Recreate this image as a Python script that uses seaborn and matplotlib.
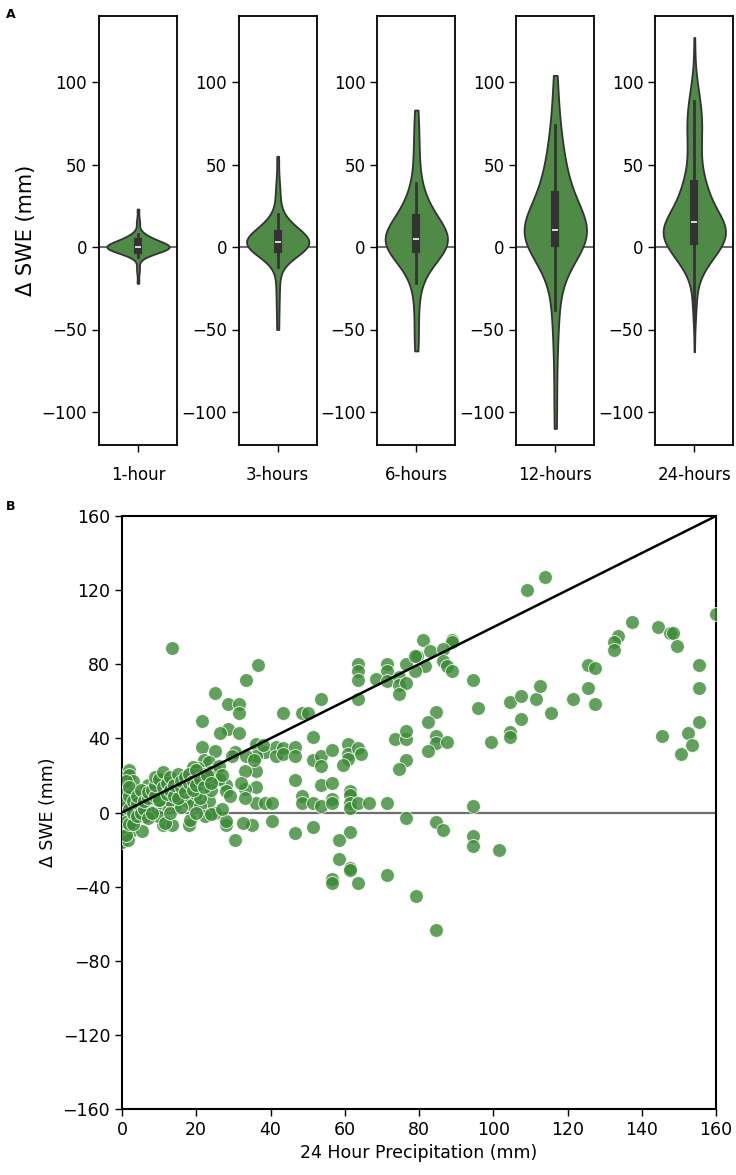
import numpy as np
import pandas as pd
import matplotlib
matplotlib.use("Agg")
import matplotlib.pyplot as plt
import seaborn as sns

# accumulation windows shown in panel A
durations = ["1-hour", "3-hours", "6-hours", "12-hours", "24-hours"]

# SWE change (mm) for the shorter windows
swe_1h = [-22, -15, -12, -6, -5, -5, -4, -4, -4, -3, -3, -3, -3, -2, -2, -2,
          -2, -1, -1, -1, -1, -1, 0, 0, 0, 0, 0, 0, 0, 0, 0, 0,
          0, 0, 0, 0, 1, 1, 1, 1, 1, 2, 2, 2, 2, 3, 3, 3,
          3, 4, 4, 4, 5, 5, 5, 6, 6, 7, 8, 8, 14, 16, 23]

swe_3h = [-50, -38, -28, -21, -12, -8, -6, -5, -4, -3, -2, -2, -1, -1, -1,
          0, 0, 0, 0, 1, 1, 1, 1, 2, 2, 2, 2, 3, 3, 3,
          3, 4, 4, 4, 5, 5, 5, 6, 6, 7, 7, 8, 8, 9, 10,
          10, 11, 12, 13, 14, 16, 18, 20, 29, 33, 40, 55]

swe_6h = [-63, -55, -42, -33, -22, -18, -15, -12, -10, -8, -6, -5, -4, -3, -2, -1, -1,
          0, 0, 1, 1, 2, 2, 3, 3, 3, 4, 4, 4, 5, 5, 5, 5, 6, 6,
          6, 7, 8, 9, 10, 11, 12, 13, 14, 16, 17, 18, 19, 20, 21, 22,
          24, 27, 30, 33, 36, 39, 50, 56, 64, 74, 83]

swe_12h = [-110, -90, -70, -55, -45, -38, -30, -24, -18, -14, -10, -7, -5, -3, -1, 0, 1, 2, 2, 3,
           3, 4, 4, 5, 5, 6, 6, 7, 7, 8, 8, 8, 9, 9, 10, 10, 10, 11, 11, 11,
           12, 12, 13, 14, 15, 16, 17, 18, 20, 21, 23, 24, 26, 28, 30, 32, 34, 35, 37, 39,
           41, 43, 45, 47, 50, 54, 58, 62, 66, 70, 74, 84, 95, 104]

# panel B: 24 hour precipitation (mm) vs SWE change (mm)
precip_24h = [114, 109, 137.5, 144.5, 147.5, 148.5, 149.5, 133.5, 132.5, 132.5,
              125.5, 127.5, 125.5, 121.5, 127.5, 115.5, 155.5, 155.5, 155.5, 152.5,
              145.5, 153.5, 150.5, 160,
              81, 89, 89, 83, 86.5, 79.5, 81.5, 79, 86.5, 87.5,
              89, 94.5, 96, 84.5, 82.5, 104.5, 107.5, 111.5, 112.5, 107.5,
              104.5, 104.5, 99.5, 84.5, 84.5, 87.5, 82.5, 94.5, 84.5, 86.5,
              94.5, 94.5, 101.5, 79.2, 84.5,
              63.5, 63.5, 63.5, 71.5, 71.5, 76.5, 79, 68.5, 71.5, 74.5,
              74.5, 76.5, 74.5, 63.5, 53.5, 43.5, 48.5, 50, 51.5, 36,
              38.5, 41.5, 41.5, 43.5, 43.5, 46.5, 46.5, 36, 51.5, 53.5,
              53.5, 56.5, 61, 61, 63.5, 64.5, 61, 59.5, 36, 46.5,
              53.5, 56.5, 61.5, 61.5, 36, 36, 38.5, 40.5, 48.5, 48.5,
              51.5, 53.5, 56.5, 56.5, 61.5, 61.5, 63.5, 66.5, 71.5, 73.5,
              76.5, 76.5, 76.5, 74.5, 76.5, 40.5, 46.5, 51.5, 61.5,
              30.5, 58.5, 58.5, 61.5, 61.5, 56.5, 56.5, 63.5, 71.5,
              11, 13.5, 18, 28, 35,
              13.5, 36.5, 33.5, 25, 28.5, 31.5, 31.5, 21.5,
              28.5, 31.5, 26.5, 21.5, 25, 22, 23.5, 20.5, 19, 2,
              2, 3, 28, 28, 29, 33, 33, 18.5, 22.5, 23.5,
              25, 28, 32.5, 38, 30.5, 29.5, 33.5, 35.5, 33, 32,
              25, 25,
              19.7, 18.3, 16, 14.3, 12.5, 10.7, 9, 7, 6, 5.3,
              14.7, 17, 18.8, 21, 14.3, 11.6, 9, 7, 4.4, 3.5,
              1.7, 1.7, 6.2, 9.8, 11.6, 18.3, 22.4,
              0, 0, 0.5, 2.5, 5.3, 1.7, 0, 0, 0, 0,
              0, 0, 0, 1, 2, 3, 4, 5, 3, 1,
              2, 3,
              12, 13, 15, 16, 17, 20, 21, 22, 23, 24,
              26, 26, 27, 20, 21, 24, 11, 8, 10, 13,
              16, 20, 24, 27,
              0, 0, 0, 0, 0, 0, 1, 1, 1, 1,
              1, 1, 2, 2, 2, 2, 3, 3, 3, 4,
              4, 4, 5, 5, 6, 6, 7, 7, 7, 8,
              8, 9, 9, 9, 10, 10, 11, 11, 12, 12,
              13, 13, 14, 14, 15, 15, 16, 16, 17, 17,
              18, 18, 19, 19, 20, 20, 21, 22, 23, 24]
swe_24h = [127, 120, 103, 100, 97, 97, 90, 95, 92, 87.5,
           79.5, 78, 67, 61.5, 58.5, 53.5, 79.5, 67, 49, 43,
           41.5, 36.5, 31.5, 107,
           93, 93, 92, 87, 88, 84.5, 79, 76.5, 81.5, 79,
           76.5, 71.5, 56.5, 54, 49, 59.5, 63, 61.5, 68.5, 50.5,
           43.5, 40.5, 38, 41.5, 37.5, 38, 33, 3.5, -5, -9.5,
           -12.5, -18, -20, -45, -63.5,
           80, 76.5, 71.5, 80, 76.5, 80, 84.5, 72, 71, 73,
           69, 70, 64, 61.5, 61.5, 53.5, 53.5, 53.5, 40.5, 37,
           32.5, 35.5, 30.5, 35, 31.5, 35.5, 30.5, 30.5, 28.5, 30.5,
           25, 33.5, 37, 31.5, 35, 31.5, 29, 25.5, 22.5, 17.5,
           15, 16, 11.5, 9.5, 13.5, 5, 5, 5, 9, 5,
           5, 3.5, 7.5, 5, 5, 2.5, 5, 5, 5, 39.5,
           39.5, 44, 28.5, 23.5, -3, -4.5, -11, -8, -10.5,
           -15, -15, -25, -30, -31, -36, -38, -38, -33.5,
           -6.5, -6.5, -6.5, -6.5, -7,
           88.5, 79.5, 71.5, 64.5, 58.5, 58.5, 53.5, 49.5,
           45, 43, 43, 35.5, 33, 28.5, 27, 24, 24.5, 23,
           20.5, 17, 15, 11.5, 9, 12.5, 8, 7, 13.5, 6,
           0, -4.5, -5.5, 36.5, 32.5, 30.5, 30.5, 28.5, 22.5, 16,
           23, 19,
           16, 14, 12.5, 14, 17, 18, 14, 15, 11.5, 9,
           8, 7, 4.3, 3.4, 3.4, 4.3, 3.4, 1.6, 0, -4,
           -2, -7.4, -2, -2, -5.6, -4, -2,
           -16, -13, -10, -10, -10, -14.6, -6, -3, 0, 3,
           6, 9, 12, 14, 5, 8, 3, 5, 11, 1,
           -1, 2,
           10, 7, 11, 18, 15, 20, 19, 21, 17, 22,
           18, 25, 20, 10, 8, 12, 12, 8, 7, 0,
           3, 0, -1, 2,
           -4, -8, 1, 4, 7, 10, -12, -5, 3, 6,
           12, 17, -6, 2, 9, 14, -6, 0, 6, -2,
           5, 9, 0, 12, 2, 6, -3, 8, 11, 0,
           12, 9, 15, 19, 7, 18, 14, 22, 10, 16,
           12, 19, 9, 15, 8, 21, 14, 17, 11, 19,
           16, 21, 12, 17, 15, 23, 18, 14, 20, 16]

VIOLIN_GREEN = "#4f8a47"
POINT_GREEN = "#3b8a35"
ZERO_GREY = "#6e6e6e"

plt.rcParams["font.family"] = ["DejaVu Sans"]

swe_by_duration = {
    "1-hour": swe_1h,
    "3-hours": swe_3h,
    "6-hours": swe_6h,
    "12-hours": swe_12h,
    "24-hours": swe_24h,
}
violin_df = pd.concat(
    [pd.DataFrame({"duration": d, "swe": swe_by_duration[d]}) for d in durations],
    ignore_index=True,
)

fig = plt.figure(figsize=(7.36, 11.75), dpi=100)
W, H = 736.0, 1175.0

# Panel A: one narrow axes per window
panel_left = [99, 238.7, 377.3, 516.3, 655.3]
for i, d in enumerate(durations):
    ax = fig.add_axes([panel_left[i] / W, 1 - 445 / H, 78 / W, 429 / H])
    ax.axhline(0, color=ZERO_GREY, lw=1.5, zorder=0)
    sns.violinplot(data=violin_df[violin_df["duration"] == d], x="duration", y="swe",
                   ax=ax, color=VIOLIN_GREEN, saturation=1, cut=0, inner="box",
                   linecolor="#333333", linewidth=1.3, width=0.8)
    ax.set_ylim(-120, 140)
    ax.set_xlim(-0.5, 0.5)
    ax.set_yticks([-100, -50, 0, 50, 100])
    ax.set_xlabel("")
    ax.set_ylabel("Δ SWE (mm)" if i == 0 else "", fontsize=15)
    ax.tick_params(labelsize=12, length=5, width=1)
    ax.tick_params(axis="x", pad=10)
    for sp in ax.spines.values():
        sp.set_linewidth(1.3)

# Panel B: scatter against 24 hour precipitation
axb = fig.add_axes([122 / W, 1 - 1109 / H, 594 / W, 593 / H])
axb.axhline(0, color=ZERO_GREY, lw=1.6, zorder=1)
sns.scatterplot(x=precip_24h, y=swe_24h, ax=axb, color=POINT_GREEN, s=100, alpha=0.8,
                edgecolor="white", linewidth=0.7, zorder=3)
axb.plot([0, 160], [0, 160], color="black", lw=1.8, zorder=4)
axb.set_xlim(0, 160)
axb.set_ylim(-160, 160)
axb.set_xticks(np.arange(0, 161, 20))
axb.set_yticks(np.arange(-160, 161, 40))
axb.set_xlabel("24 Hour Precipitation (mm)", fontsize=12.5)
axb.set_ylabel("Δ SWE (mm)", fontsize=12.5)
axb.tick_params(labelsize=12.5, length=5, width=1)
for sp in axb.spines.values():
    sp.set_linewidth(1.5)

fig.text(6 / W, 1 - 14 / H, "A", fontsize=9, fontweight="bold", va="center")
fig.text(6 / W, 1 - 506 / H, "B", fontsize=9, fontweight="bold", va="center")

fig.savefig("out.png", dpi=100)
